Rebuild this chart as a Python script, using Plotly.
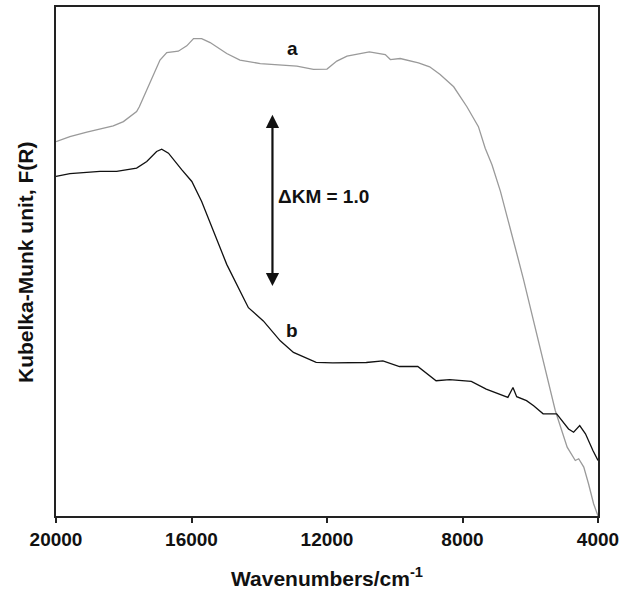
import plotly.graph_objects as go

# Curve a (grey): wavenumber (cm^-1) vs Kubelka-Munk F(R)
a_wn = [20000, 19590, 19090, 18310, 18010, 17620, 17540, 17220, 16930, 16730,
        16390, 16140, 15940, 15700, 15450, 14960, 14570, 13970, 13380, 12890,
        12400, 12000, 11710, 11410, 10750, 10280, 10130, 9840, 9300, 8970,
        8660, 8260, 7870, 7530, 7330, 7130, 6880, 6640, 6390, 6200,
        5900, 5610, 5260, 4910, 4670, 4570, 4420, 4280, 4130, 4000]
a_km = [2.159, 2.188, 2.213, 2.249, 2.274, 2.332, 2.360, 2.504, 2.629, 2.672,
        2.680, 2.711, 2.753, 2.753, 2.730, 2.667, 2.629, 2.609, 2.603, 2.594,
        2.575, 2.577, 2.623, 2.652, 2.676, 2.661, 2.632, 2.638, 2.613, 2.590,
        2.546, 2.475, 2.360, 2.245, 2.121, 2.025, 1.872, 1.699, 1.508, 1.364,
        1.125, 0.895, 0.607, 0.397, 0.320, 0.330, 0.282, 0.186, 0.071, 0.0]

# Curve b (black)
b_wn = [20000, 19590, 18700, 18210, 17620, 17320, 17030, 16880, 16680, 16490,
        16290, 15990, 15700, 15350, 14960, 14420, 14320, 13880, 13380, 12990,
        12320, 11830, 10840, 10350, 9860, 9320, 8780, 8380, 7740, 7300,
        6910, 6660, 6510, 6400, 6110, 5900, 5620, 5220, 4870, 4720,
        4540, 4370, 4150, 4000]
b_km = [1.958, 1.974, 1.987, 1.987, 2.006, 2.044, 2.102, 2.115, 2.092, 2.044,
        1.997, 1.929, 1.814, 1.642, 1.451, 1.240, 1.201, 1.125, 1.010, 0.943,
        0.886, 0.883, 0.885, 0.895, 0.862, 0.862, 0.780, 0.786, 0.776, 0.732,
        0.703, 0.684, 0.741, 0.688, 0.665, 0.636, 0.589, 0.589, 0.502, 0.483,
        0.521, 0.474, 0.378, 0.320]

x_ticks = [20000, 16000, 12000, 8000, 4000]
x_tick_labels = ["20000", "16000", "12000", "8000", "4000"]

# Scale bar
bar_wn = 13610
bar_top = 2.314
bar_bottom = 1.314

FONT = "Arial, Liberation Sans, Helvetica, sans-serif"

fig = go.Figure()
fig.add_trace(go.Scatter(x=a_wn, y=a_km, mode="lines",
                         line=dict(color="#9a9a9a", width=1.3), name="a"))
fig.add_trace(go.Scatter(x=b_wn, y=b_km, mode="lines",
                         line=dict(color="#111111", width=1.3), name="b"))

fig.update_layout(
    width=632, height=592,
    margin=dict(l=56, r=34, t=5, b=76),
    paper_bgcolor="white", plot_bgcolor="white",
    showlegend=False,
    font=dict(family=FONT, size=19, color="#111111", weight="bold"),
)
fig.update_xaxes(
    range=[20000, 4000], tickvals=x_ticks, ticktext=x_tick_labels,
    ticks="outside", ticklen=5, tickwidth=1.5, tickcolor="#222",
    showline=True, linewidth=2, linecolor="#222", mirror=True,
    showgrid=False, zeroline=False,
    tickfont=dict(family=FONT, size=19, color="#111", weight="bold"),
)
fig.update_yaxes(
    range=[0, 2.935], showticklabels=False, ticks="",
    showline=True, linewidth=2, linecolor="#222", mirror=True,
    showgrid=False, zeroline=False,
)

# Axis titles
fig.add_annotation(text="Wavenumbers/cm<sup>-1</sup>", xref="paper", yref="paper",
                   x=0.5, y=0, yshift=-61, xanchor="center", yanchor="middle",
                   showarrow=False, font=dict(family=FONT, size=21, color="#111", weight="bold"))
fig.add_annotation(text="Kubelka-Munk unit, F(R)", xref="paper", yref="paper",
                   x=0, y=0.497, xshift=-31, xanchor="center", yanchor="middle",
                   textangle=-90, showarrow=False,
                   font=dict(family=FONT, size=21, color="#111", weight="bold"))

# Curve labels
fig.add_annotation(text="a", x=13030, y=2.695, showarrow=False,
                   font=dict(family=FONT, size=19, color="#111", weight="bold"))
fig.add_annotation(text="b", x=13030, y=1.067, showarrow=False,
                   font=dict(family=FONT, size=19, color="#111", weight="bold"))

# Double arrow scale bar
fig.add_annotation(x=bar_wn, y=bar_top, ax=bar_wn, ay=bar_bottom,
                   xref="x", yref="y", axref="x", ayref="y", text=" ",
                   showarrow=True, arrowside="end+start", arrowhead=2,
                   arrowsize=1.2, arrowwidth=2.2, arrowcolor="#111",
                   font=dict(size=1))
fig.add_annotation(text="\u0394KM = 1.0", x=13500, y=1.843, xanchor="left",
                   showarrow=False,
                   font=dict(family=FONT, size=19, color="#111", weight="bold"))

fig.write_html("out.html", config={"displayModeBar": False},
               post_script="document.body.style.margin='0';")
